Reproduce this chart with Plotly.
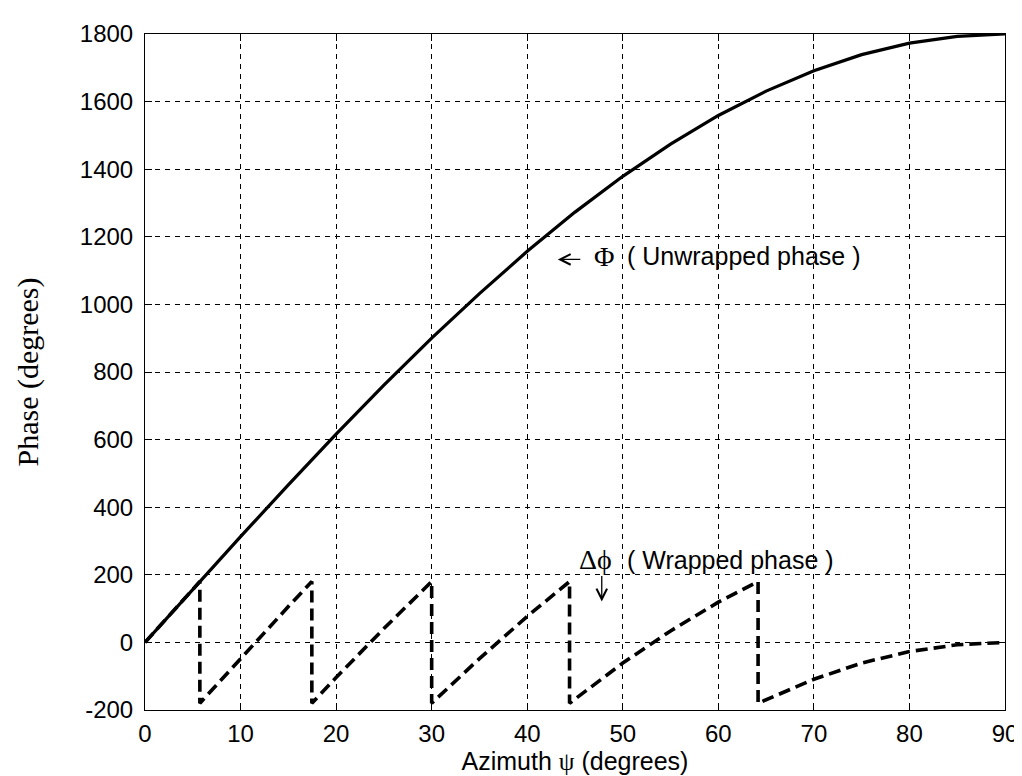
import plotly.graph_objects as go

# Azimuth sample points (degrees) and unwrapped phase (degrees)
azimuth = [0, 5, 10, 15, 20, 25, 30, 35, 40, 45, 50, 55, 60, 65, 70, 75, 80, 85, 90]
unwrapped_phase = [0, 157, 313, 466, 616, 761, 900, 1032, 1157, 1273, 1379, 1474, 1559, 1631, 1691, 1739, 1773, 1793, 1800]

# Wrapped phase (degrees), including the jump points
wrapped_azimuth = [0, 5, 5.74, 5.74, 10, 15, 17.46, 17.46, 20, 25, 30, 30, 35, 40, 44.43, 44.43,
                   50, 55, 60, 64.16, 64.16, 70, 75, 80, 85, 90]
wrapped_phase = [0, 157, 180, -180, -47, 106, 180, -180, -104, 41, 180, -180, -48, 77, 180, -180,
                 -61, 34, 119, 180, -180, -109, -61, -27, -7, 0]

x_ticks = [0, 10, 20, 30, 40, 50, 60, 70, 80, 90]
y_ticks = [-200, 0, 200, 400, 600, 800, 1000, 1200, 1400, 1600, 1800]

SANS = "Arial, Liberation Sans"
SERIF = "Liberation Serif, Times New Roman"

fig = go.Figure()
fig.add_trace(go.Scatter(x=azimuth, y=unwrapped_phase, mode="lines",
                         line=dict(color="black", width=3.2), showlegend=False))
fig.add_trace(go.Scatter(x=wrapped_azimuth, y=wrapped_phase, mode="lines",
                         line=dict(color="black", width=3.6, dash="12px,6px"), showlegend=False))

axis_common = dict(showline=True, linecolor="black", linewidth=1, mirror="ticks",
                   ticks="inside", ticklen=7, tickcolor="black",
                   showgrid=True, gridcolor="black", gridwidth=1, griddash="5px,5px",
                   zeroline=False,
                   tickfont=dict(family=SANS, size=24, color="black"))

fig.update_xaxes(range=[0, 90], tickvals=x_ticks, ticktext=[str(v) for v in x_ticks],
                 ticklabelstandoff=2,
                 title=dict(text="Azimuth <span style='font-family:Liberation Serif'>ψ</span> (degrees)",
                            font=dict(family=SANS, size=25, color="black"),
                            standoff=4),
                 **axis_common)
fig.update_yaxes(range=[-200, 1800], tickvals=y_ticks, ticktext=[str(v) for v in y_ticks],
                 ticklabelstandoff=6,
                 title=dict(text="Phase (degrees)",
                            font=dict(family=SERIF, size=30, color="black"),
                            standoff=32),
                 **axis_common)

# Unwrapped-phase label: left arrow, Phi, text
fig.add_annotation(x=43.2, y=1133, xref="x", yref="y", text="", showarrow=True,
                   ax=24, ay=0, arrowhead=5, arrowsize=1.6, arrowwidth=1.3, arrowcolor="black",
                   standoff=0)
fig.add_annotation(x=46.75, y=1142, xref="x", yref="y", xanchor="left", yanchor="middle",
                   showarrow=False, text="Φ", font=dict(family=SERIF, size=28, color="black"))
fig.add_annotation(x=50.2, y=1142, xref="x", yref="y", xanchor="left", yanchor="middle",
                   showarrow=False, text="( Unwrapped phase )", font=dict(family=SANS, size=25, color="black"))

# Wrapped-phase label: Delta phi, text, down arrow
fig.add_annotation(x=45.2, y=245, xref="x", yref="y", xanchor="left", yanchor="middle",
                   showarrow=False, text="Δϕ", font=dict(family=SERIF, size=28, color="black"))
fig.add_annotation(x=50.2, y=245, xref="x", yref="y", xanchor="left", yanchor="middle",
                   showarrow=False, text="( Wrapped phase )", font=dict(family=SANS, size=25, color="black"))
fig.add_annotation(x=47.8, y=121, xref="x", yref="y", text="", showarrow=True,
                   ax=0, ay=-27, arrowhead=5, arrowsize=1.6, arrowwidth=1.3, arrowcolor="black",
                   standoff=0)

fig.update_layout(width=1022, height=776,
                  margin=dict(l=137, r=18, t=18, b=74),
                  plot_bgcolor="white", paper_bgcolor="white")

fig.write_html("out.html")
